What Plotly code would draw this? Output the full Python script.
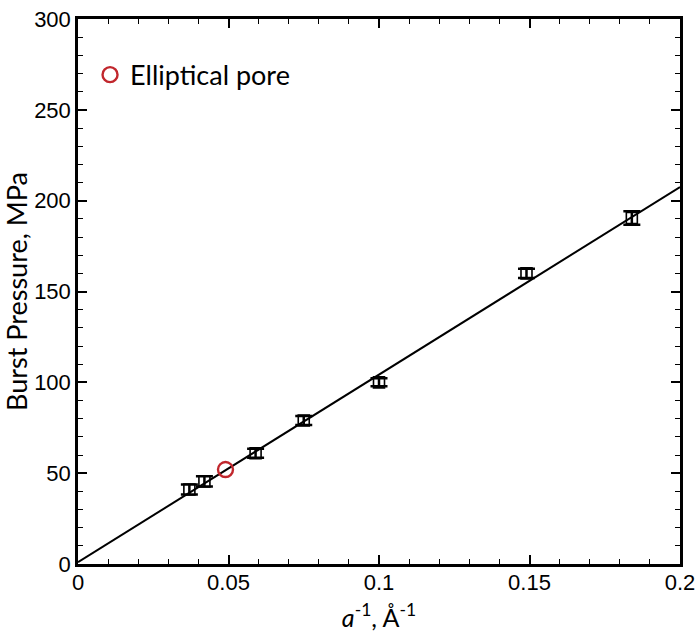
import plotly.graph_objects as go

# Data
inv_a = [0.037, 0.042, 0.059, 0.075, 0.100, 0.149, 0.184]
burst = [41.0, 45.5, 61.0, 79.0, 100.0, 160.0, 190.5]
burst_err = [2.8, 2.8, 2.5, 2.5, 2.2, 2.5, 3.7]

ellip_x = [0.049]
ellip_y = [52.0]

fit_x = [0.0, 0.2]
fit_y = [1.0, 207.5]

fig = go.Figure()

fig.add_trace(go.Scatter(
    x=fit_x, y=fit_y, mode="lines",
    line=dict(color="black", width=2), showlegend=False, hoverinfo="skip"))

fig.add_trace(go.Scatter(
    x=inv_a, y=burst, mode="markers",
    marker=dict(symbol="square-open", size=11, color="black", line=dict(width=1.6, color="black")),
    error_y=dict(type="data", array=burst_err, color="black", thickness=2.5, width=8.5),
    showlegend=False))

fig.add_trace(go.Scatter(
    x=ellip_x, y=ellip_y, mode="markers", name="Elliptical pore",
    marker=dict(symbol="circle-open", size=15, color="#c1272d", line=dict(width=2.4, color="#c1272d")),
    showlegend=True))

tick_font = dict(family="Liberation Sans, Arial", size=22, color="black")
title_font = dict(family="Lato, Open Sans", size=27, color="black")

fig.update_layout(
    width=700, height=632,
    margin=dict(l=78, r=20, t=19, b=68),
    plot_bgcolor="white", paper_bgcolor="white",
    legend=dict(x=0.02, y=0.942, xanchor="left", yanchor="top",
                font=dict(family="Lato, Open Sans", size=27, color="black"),
                bgcolor="rgba(0,0,0,0)", itemwidth=30),
    xaxis=dict(range=[0, 0.2], tickvals=[0, 0.05, 0.1, 0.15, 0.2],
               ticktext=["0", "0.05", "0.1", "0.15", "0.2"],
               ticks="inside", ticklen=9, tickwidth=2, tickcolor="black",
               minor=dict(dtick=0.01, ticks="inside", ticklen=5, tickwidth=1.2, tickcolor="black"),
               showline=True, linewidth=2.5, linecolor="black", mirror="ticks",
               showgrid=False, zeroline=False, tickfont=tick_font, automargin=False,
               ticklabelstandoff=-3,
               title=dict(text="<i>a</i><sup>-1</sup>, Å<sup>-1</sup>", font=dict(family="Lato, Open Sans", size=25, color="black"), standoff=18)),
    yaxis=dict(range=[0, 300], tickvals=[0, 50, 100, 150, 200, 250, 300],
               ticks="inside", ticklen=9, tickwidth=2, tickcolor="black",
               minor=dict(dtick=10, ticks="inside", ticklen=5, tickwidth=1.2, tickcolor="black"),
               showline=True, linewidth=2.5, linecolor="black", mirror="ticks",
               showgrid=False, zeroline=False, tickfont=tick_font, automargin=False,
               title=dict(text="Burst Pressure, MPa", font=title_font, standoff=9)),
)

fig.write_html("out.html", config={"displayModeBar": False},
               post_script="document.body.style.margin='0';document.body.style.overflow='hidden';")
